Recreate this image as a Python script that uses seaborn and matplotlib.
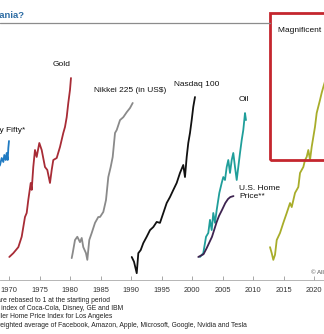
import matplotlib
matplotlib.use("Agg")
import matplotlib.pyplot as plt
import matplotlib.patches as mpatches
import seaborn as sns
import pandas as pd

# ---------------- data (rebased to 1 at start; log scale) ----------------
nifty_years = [1967.98, 1968.48, 1968.75, 1969.02, 1969.18, 1969.41, 1969.57, 1969.74, 1969.84, 1969.95]
nifty_vals = [4.67, 5.10, 5.77, 5.38, 6.09, 5.57, 6.31, 5.57, 6.89, 7.80]

gold_years = [1970.0, 1970.66, 1971.48, 1972.03, 1972.57, 1972.85, 1973.11, 1973.51, 1973.67, 1973.93,
              1974.21, 1974.49, 1974.92, 1975.31, 1975.85, 1976.23, 1976.67, 1976.95, 1977.21, 1977.77,
              1978.31, 1978.85, 1979.13, 1979.41, 1979.67, 1979.95, 1980.11]
gold_vals = [1.00, 1.07, 1.19, 1.43, 2.03, 2.18, 2.74, 3.71, 3.28, 4.92,
             6.65, 5.88, 7.53, 6.65, 4.92, 4.67, 3.71, 4.67, 5.57, 5.77,
             7.02, 8.99, 10.0, 11.9, 15.3, 19.3, 23.8]

nikkei_years = [1980.23, 1980.39, 1980.77, 1981.15, 1981.59, 1981.87, 1982.13, 1982.57, 1982.79, 1983.11,
                1983.51, 1984.05, 1984.59, 1984.87, 1985.41, 1985.85, 1986.23, 1986.62, 1986.95, 1987.33,
                1987.61, 1988.15, 1988.69, 1989.25, 1989.79, 1990.23]
nikkei_vals = [0.98, 1.07, 1.35, 1.43, 1.30, 1.40, 1.19, 1.07, 0.95, 1.35,
               1.53, 1.83, 2.03, 2.03, 2.22, 2.74, 4.12, 4.92, 5.88, 8.99,
               9.48, 11.3, 11.9, 13.0, 14.0, 15.3]

nasdaq_years = [1990.07, 1990.44, 1990.89, 1991.15, 1991.54, 1991.97, 1992.52, 1993.07, 1993.61, 1994.16,
                1994.70, 1995.25, 1995.80, 1996.34, 1996.89, 1997.44, 1997.98, 1998.52, 1998.80, 1999.08,
                1999.34, 1999.62, 1999.90, 2000.16, 2000.44]
nasdaq_vals = [1.00, 0.92, 0.75, 1.07, 1.13, 1.28, 1.43, 1.61, 1.70, 1.86,
               1.83, 2.18, 2.60, 2.89, 3.28, 3.71, 4.43, 5.10, 4.12, 5.88,
               7.53, 8.99, 11.3, 14.3, 17.0]

oil_years = [2001.26, 2001.80, 2002.25, 2002.62, 2002.90, 2003.18, 2003.44, 2003.72, 2004.00, 2004.43,
             2004.82, 2005.08, 2005.36, 2005.64, 2005.90, 2006.18, 2006.46, 2006.72, 2007.00, 2007.28,
             2007.54, 2007.82, 2008.10, 2008.36, 2008.64, 2008.80]
oil_vals = [1.00, 1.07, 1.43, 1.53, 1.93, 1.61, 2.18, 1.83, 2.30, 3.11,
            3.71, 4.12, 3.91, 4.92, 5.57, 4.43, 5.57, 6.31, 4.92, 3.91,
            4.92, 6.31, 7.94, 9.48, 12.8, 11.3]

home_years = [2000.98, 2001.84, 2002.36, 2003.23, 2004.00, 2004.38, 2004.87, 2005.41, 2005.85, 2006.23, 2006.75]
home_vals = [1.00, 1.05, 1.17, 1.43, 1.86, 2.07, 2.30, 2.60, 2.79, 2.89, 2.94]

mag7_years = [2012.74, 2013.02, 2013.28, 2013.56, 2013.84, 2014.38, 2014.92, 2015.48, 2016.02, 2016.30,
              2016.84, 2017.38, 2017.66, 2018.20, 2018.48, 2018.75, 2019.02, 2019.30, 2019.57, 2020.11,
              2020.39, 2020.93, 2021.21, 2021.48, 2021.92]
mag7_vals = [1.19, 1.07, 0.95, 1.04, 1.35, 1.53, 1.83, 2.18, 2.60, 2.42,
             3.11, 3.45, 4.43, 4.92, 5.57, 5.88, 6.65, 5.57, 7.02, 10.0,
             12.8, 16.1, 18.3, 20.3, 23.8]

series_names = ["Nifty Fifty", "Gold", "Nikkei 225", "Nasdaq 100", "Oil", "U.S. Home Price", "Magnificent 7"]
series_colors = ["#1f7ac2", "#a82c36", "#8a8a8a", "#111111", "#1f9e9a", "#3d2350", "#a8ad2a"]
x_ticks = [1970, 1975, 1980, 1985, 1990, 1995, 2000, 2005, 2010, 2015, 2020]

rows = []
for name, yrs, vals in zip(series_names,
                           [nifty_years, gold_years, nikkei_years, nasdaq_years, oil_years, home_years, mag7_years],
                           [nifty_vals, gold_vals, nikkei_vals, nasdaq_vals, oil_vals, home_vals, mag7_vals]):
    for y, v in zip(yrs, vals):
        rows.append({"series": name, "year": y, "value": v})
df = pd.DataFrame(rows)

# ---------------- figure ----------------
sns.set_theme(style="white")
plt.rcParams["font.family"] = ["Liberation Sans", "DejaVu Sans"]

W, H = 324, 334
fig = plt.figure(figsize=(W / 100, H / 100), dpi=100)
ax = fig.add_axes([0, (H - 280) / H, 1, 280 / H])

sns.lineplot(data=df, x="year", y="value", hue="series", hue_order=series_names,
             palette=dict(zip(series_names, series_colors)), units="series",
             estimator=None, sort=False, legend=False, linewidth=1.3, ax=ax)

ax.set_yscale("log")
ax.set_xlim(1968.475, 2021.59)
ax.set_ylim(0.665, 94.8)
ax.set_xlabel("")
ax.set_ylabel("")
ax.set_yticks([])
ax.set_yticks([], minor=True)
ax.set_xticks(x_ticks)
ax.set_xticklabels([str(t) for t in x_ticks])
ax.tick_params(axis="x", direction="in", length=3, width=0.6, color="#999999",
               labelsize=5.4, labelcolor="#333333", pad=5, bottom=True)
for s in ["top", "left", "right"]:
    ax.spines[s].set_visible(False)
ax.spines["bottom"].set_color("#aaaaaa")
ax.spines["bottom"].set_linewidth(0.6)
ax.patch.set_alpha(0)


def px(x, y):
    return x / W, 1 - y / H


# title and rule
fig.text(*px(24, 15), "Is there a Magnificent 7 mania?", ha="right", va="center",
         fontsize=6.8, fontweight="bold", color="#2e6da4")
fig.add_artist(plt.Line2D([0, 270 / W], [1 - 23 / H, 1 - 23 / H], color="#8c8c8c", lw=0.9,
                          transform=fig.transFigure))

# red highlight box
fig.add_artist(mpatches.Rectangle(px(270, 160), 70 / W, 147 / H, transform=fig.transFigure,
                                  fill=False, edgecolor="#c4262e", lw=2.0, clip_on=False))

# series labels
lab = dict(fontsize=6, color="#111111", va="center")
fig.text(*px(25.5, 130), "Nifty Fifty*", ha="right", **lab)
fig.text(*px(62, 65), "Gold", ha="center", **lab)
fig.text(*px(94, 90), "Nikkei 225 (in US$)", ha="left", **lab)
fig.text(*px(173.5, 84), "Nasdaq 100", ha="left", **lab)
fig.text(*px(239, 100), "Oil", ha="left", **lab)
fig.text(*px(239, 192.5), "U.S. Home\nPrice**", ha="left", linespacing=1.2, **lab)
fig.text(*px(277.5, 30), "Magnificent 7", ha="left", **lab)
fig.text(*px(311, 272), "© AllianceBernstein", ha="left", va="center", fontsize=4.5, color="#555555")

# footnotes
foot = dict(fontsize=4.85, color="#222222", va="center", ha="right")
fig.text(*px(110, 300.3), "Note: All series are rebased to 1 at the starting period", **foot)
fig.text(*px(123, 308.7), "* Equal-weighted index of Coca-Cola, Disney, GE and IBM", **foot)
fig.text(*px(112, 317), "** Case-Shiller Home Price Index for Los Angeles", **foot)
fig.text(*px(247, 325.3), "*** Market-cap weighted average of Facebook, Amazon, Apple, Microsoft, Google, Nvidia and Tesla", **foot)

fig.savefig("out.png", dpi=100, facecolor="white")
